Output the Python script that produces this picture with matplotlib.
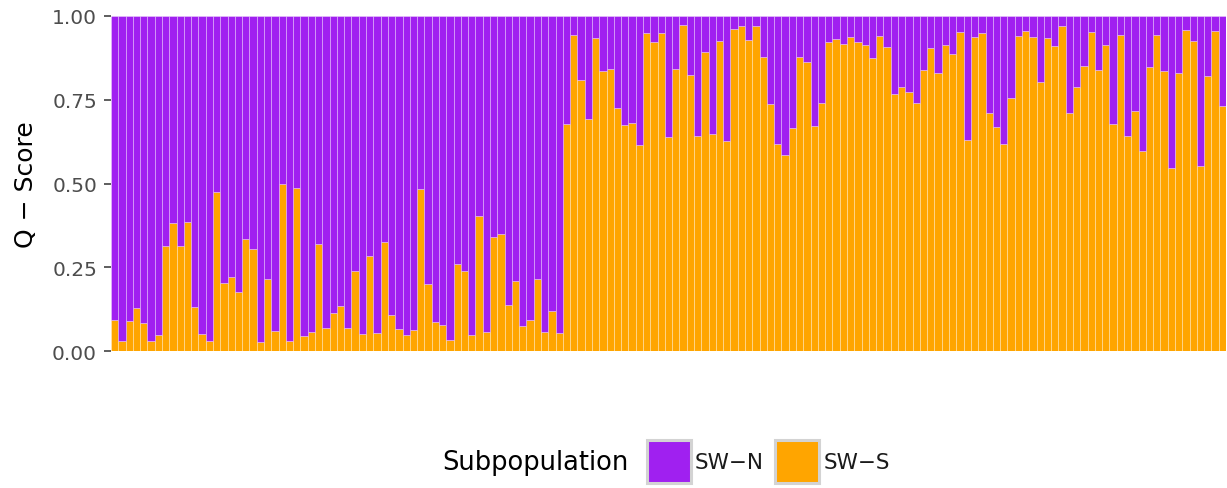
import matplotlib

matplotlib.use("Agg")
import matplotlib.pyplot as plt
import numpy as np
from matplotlib.patches import Rectangle

# Q-score (ancestry proportion) per individual for the SW-S cluster; SW-N is the remainder
q_south = [
    0.094, 0.03, 0.09, 0.128, 0.085, 0.03, 0.048, 0.312, 0.382, 0.312, 0.386, 0.13, 0.05,
    0.03, 0.474, 0.203, 0.22, 0.175, 0.334, 0.304, 0.028, 0.215, 0.06, 0.498, 0.03,
    0.487,
    0.046, 0.056, 0.319, 0.068, 0.113, 0.135, 0.07, 0.238, 0.05, 0.285, 0.053, 0.324,
    0.107, 0.066, 0.048, 0.063, 0.484, 0.199, 0.088, 0.078, 0.034, 0.26, 0.239, 0.048,
    0.404, 0.058, 0.341, 0.35, 0.137, 0.208, 0.075, 0.092, 0.215, 0.058, 0.118, 0.053,
    0.678, 0.943, 0.81, 0.693, 0.934, 0.837, 0.842, 0.724, 0.676, 0.682, 0.616, 0.948,
    0.921, 0.949,
    0.638, 0.842, 0.974, 0.825, 0.643, 0.894, 0.648, 0.926, 0.626, 0.961, 0.971, 0.929,
    0.969, 0.879, 0.737, 0.618, 0.586, 0.665, 0.879, 0.862, 0.673, 0.739, 0.921, 0.931,
    0.916, 0.938,
    0.921, 0.914, 0.874, 0.941, 0.906, 0.767, 0.789, 0.772, 0.739, 0.839, 0.903, 0.829,
    0.914, 0.887, 0.953, 0.63, 0.936, 0.948, 0.709, 0.668, 0.618, 0.755, 0.941, 0.956,
    0.936,
    0.802, 0.933, 0.909, 0.971, 0.71, 0.787, 0.852, 0.953, 0.84, 0.913, 0.678, 0.943,
    0.643, 0.715, 0.596, 0.849, 0.943, 0.837, 0.546, 0.829, 0.959, 0.926, 0.551, 0.82,
    0.956, 0.73,
]
q_north = [1.0 - v for v in q_south]
individuals = np.arange(len(q_south))

subpops = ["SW\u2212N", "SW\u2212S"]
colors = ["#A020F0", "#FFA500"]
y_ticks = [0.0, 0.25, 0.5, 0.75, 1.0]
y_ticklabels = ["0.00", "0.25", "0.50", "0.75", "1.00"]

W, H = 1227, 489
fig = plt.figure(figsize=(W / 100, H / 100), dpi=100)
ax = fig.add_axes([111 / W, (H - 352) / H, (1226 - 111) / W, (352 - 17) / H])

edge = (1, 1, 1, 0.35)
ax.bar(individuals, q_south, width=1.0, color=colors[1], edgecolor=edge, linewidth=0.6)
ax.bar(individuals, q_north, width=1.0, bottom=q_south, color=colors[0],
       edgecolor=edge, linewidth=0.6)

ax.set_xlim(-0.5, len(q_south) - 0.5)
ax.set_ylim(0, 1)
ax.set_xticks([])
ax.set_yticks(y_ticks)
ax.set_yticklabels(y_ticklabels, fontsize=14.5, color="#4D4D4D")
ax.tick_params(axis="y", length=5, width=1.1, color="#333333", pad=5)
for s in ax.spines.values():
    s.set_visible(False)
ax.set_ylabel("Q \u2212 Score", fontsize=18, labelpad=10)

# legend along the bottom, title on the left
ly = (H - 463) / H
fig.text(442 / W, ly, "Subpopulation", fontsize=18.5, va="center", ha="left")
for x0, lab, col, tx in [(647, subpops[0], colors[0], 695), (775, subpops[1], colors[1], 824)]:
    fig.patches.append(Rectangle((x0 / W, (H - 484) / H), 44 / W, 43 / H,
                                 transform=fig.transFigure, facecolor=col,
                                 edgecolor="#D3D3D3", linewidth=2.2))
    fig.text(tx / W, ly, lab, fontsize=15.5, va="center", ha="left", color="#1A1A1A")

fig.savefig("out.png", dpi=100)
